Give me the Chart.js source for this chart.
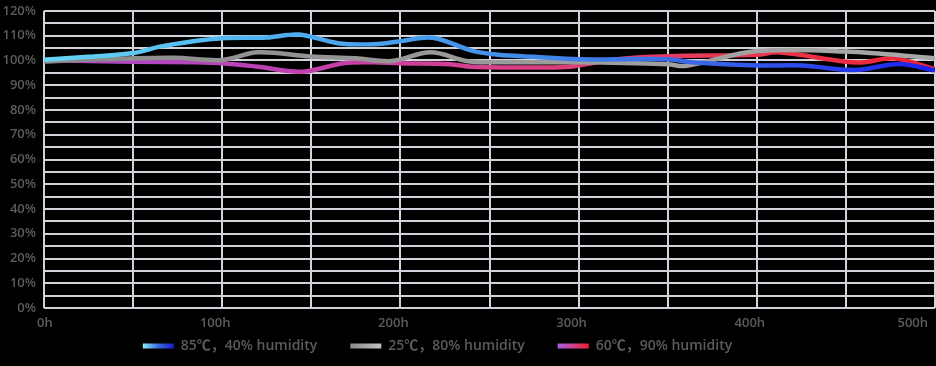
<!DOCTYPE html>
<html>
<head>
<meta charset="utf-8">
<script src="https://cdn.jsdelivr.net/npm/chart.js@4"></script>
<style>
  html, body { margin: 0; padding: 0; background: #000; }
  #wrap { width: 936px; height: 366px; position: relative; }
</style>
</head>
<body>
<div id="wrap"><canvas id="chart"></canvas></div>
<script>
// readings (hours, % of initial)
const hours85 = [0, 25, 50, 65, 82, 100, 125, 143, 165, 185, 200, 218, 240, 255, 275, 300, 350, 365, 400, 425, 455, 480, 500]
const values85 = [100.3, 101.5, 103, 105.6, 107.6, 109, 109.3, 110.5, 107, 106.6, 107.8, 109.2, 104, 102.3, 101.5, 100.5, 100.5, 99.2, 98, 98, 96.2, 98.6, 96]

const hours25 = [0, 30, 73, 100, 120, 150, 175, 195, 217, 237, 250, 300, 350, 360, 400, 450, 500]
const values25 = [99.6, 100.5, 101.1, 100.2, 103.3, 101.6, 100.9, 99.8, 103.3, 99.8, 99.3, 99.3, 98.5, 97.8, 103.8, 103.6, 100.9]

const hours60 = [0, 50, 85, 100, 120, 145, 168, 185, 200, 228, 240, 275, 295, 320, 350, 400, 412, 450, 460, 477, 500]
const values60 = [100.2, 99.5, 99.3, 98.9, 97.5, 95.5, 98.9, 99.3, 98.9, 98.5, 97.5, 97.2, 97.5, 100.4, 101.7, 102.3, 103.3, 99.5, 99.3, 100.9, 96.5]

const seriesLabels = ['85℃，40% humidity', '25℃，80% humidity', '60℃，90% humidity']
const xTickStep = 50
const yTickStep = 5

const lineStops = [
  ['#66d4f2', '#4fb0ef', '#4590ea', '#3864e6', '#1a20ee'],
  ['#8a8a8a', '#9a9a9a', '#a8a8a8'],
  ['#a84ec8', '#bc40b4', '#d6408c', '#e63a58', '#f02230'],
]
const swatchStops = [
  ['#86eefa', '#3a6ae0', '#1a1ac8'],
  ['#8a8a8a', '#c4c4c4'],
  ['#a062ea', '#d04088', '#f02030'],
]

const textColor = '#5c5c5c'
const gridColor = '#d2d2da'
const tickFont = { family: 'Open Sans', size: 13, weight: '600' }
const legendFont = { family: '"Open Sans", "Noto Sans CJK SC"', size: 14, weight: '600' }

function toPoints( xs, ys ) {
  return xs.map( ( x, i ) => ( { x: x, y: ys[i] } ) )
}

function gradientAcross( chart, x0, x1, stops ) {
  const g = chart.ctx.createLinearGradient( x0, 0, x1, 0 )
  stops.forEach( ( c, i ) => g.addColorStop( i / ( stops.length - 1 ), c ) )
  return g
}

function lineColor( idx ) {
  return ( c ) => {
    const area = c.chart.chartArea
    if ( !area ) return lineStops[idx][0]
    return gradientAcross( c.chart, area.left, area.right, lineStops[idx] )
  }
}

function buildDataset( idx, xs, ys ) {
  return {
    label: seriesLabels[idx],
    data: toPoints( xs, ys ),
    borderColor: lineColor( idx ),
    backgroundColor: 'transparent',
    borderWidth: 4.5,
    pointRadius: 0,
    tension: 0.35,
    fill: false,
  }
}

// legend: fixed height, nudged up/left, boxes painted with gradients
const legendSwatches = {
  id: 'legendSwatches',
  beforeLayout( chart ) {
    const lg = chart.legend
    if ( lg && !lg._patched ) {
      const fit = lg.fit
      lg.fit = function () {
        fit.call( this )
        this.height = 34
      }
      lg._patched = true
    }
  },
  afterLayout( chart ) {
    const lg = chart.legend
    lg.left -= 30
    lg.right -= 30
    lg.top -= 26
  },
  afterDraw( chart ) {
    const boxes = chart.legend.legendHitBoxes || []
    const ctx = chart.ctx
    const bw = chart.options.plugins.legend.labels.boxWidth
    boxes.forEach( ( b, i ) => {
      const cy = b.top + b.height / 2
      ctx.save()
      ctx.fillStyle = gradientAcross( chart, b.left, b.left + bw, swatchStops[i] )
      ctx.fillRect( b.left, cy - 2.5, bw, 5 )
      ctx.restore()
    } )
  },
}

new Chart( document.getElementById( 'chart' ), {
  type: 'line',
  data: {
    datasets: [
      buildDataset( 0, hours85, values85 ),
      buildDataset( 1, hours25, values25 ),
      buildDataset( 2, hours60, values60 ),
    ],
  },
  options: {
    responsive: true,
    maintainAspectRatio: false,
    animation: false,
    layout: { padding: { top: 11, right: 1, left: 0, bottom: 0 } },
    scales: {
      x: {
        type: 'linear',
        min: 0,
        max: 500,
        grid: { color: gridColor, lineWidth: 2, drawTicks: false },
        border: { display: false },
        ticks: {
          stepSize: xTickStep,
          color: textColor,
          font: tickFont,
          padding: 7,
          align: 'inner',
          labelOffset: -7,
          maxRotation: 0,
          autoSkip: false,
          callback: ( v ) => ( v % 100 === 0 ? v + 'h' : '' ),
        },
        afterFit: ( s ) => {
          s.paddingLeft = 0
          s.paddingRight = 0
          s.height = 24
        },
      },
      y: {
        min: 0,
        max: 120,
        grid: { color: gridColor, lineWidth: 2, drawTicks: false },
        border: { display: false },
        ticks: {
          stepSize: yTickStep,
          color: textColor,
          font: tickFont,
          padding: 8,
          autoSkip: false,
          callback: ( v ) => ( v % 10 === 0 ? v + '%' : '' ),
        },
        afterFit: ( s ) => {
          s.width = 44
          s.paddingTop = 0
          s.paddingBottom = 0
        },
      },
    },
    plugins: {
      legend: {
        position: 'bottom',
        labels: {
          color: textColor,
          font: legendFont,
          boxWidth: 31,
          boxHeight: 5,
          padding: 33,
          generateLabels: ( chart ) => chart.data.datasets.map( ( ds, i ) => ( {
            text: ds.label,
            fillStyle: 'rgba(0,0,0,0)',
            strokeStyle: 'rgba(0,0,0,0)',
            lineWidth: 0,
            fontColor: textColor,
            datasetIndex: i,
          } ) ),
        },
      },
      tooltip: { enabled: false },
    },
  },
  plugins: [legendSwatches],
} )
</script>
</body>
</html>
